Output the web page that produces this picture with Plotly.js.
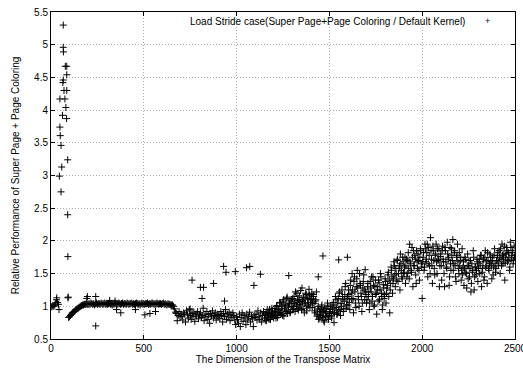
<!DOCTYPE html>
<html>
<head>
<meta charset="utf-8">
<script src="https://cdn.plot.ly/plotly-3.0.1.min.js"></script>
<style>html,body{margin:0;padding:0;background:#fff;}#chart{width:523px;height:374px;}</style>
</head>
<body>
<div id="chart"></div>
<script>
// ---- data ----
const seriesName = "Load Stride case(Super Page+Page Coloring / Default Kernel)";
const xTitle = "The Dimension of the Transpose Matrix";
const yTitle = "Relative Performance of Super Page + Page Coloring";

// dimensions 0..40 step 5
const startX0 = 0, startStep = 5;
const startY = [1.0, 0.99, 1.01, 1.0, 1.02, 1.05, 1.1, 1.06, 1.03];

// spike region (explicit)
const spikeX = [43, 45, 48, 48, 50, 54, 54, 58, 62, 64, 66, 66, 66, 67, 70, 75, 77, 80, 84, 85, 85, 85, 90, 90, 91, 91];
const spikeY = [0.95, 2.99, 4.17, 3.74, 3.61, 3.46, 2.75, 3.13, 3.92, 4.42, 4.46, 5.30, 4.96, 4.89, 4.30, 4.17, 4.67, 4.04, 3.87, 4.67, 4.54, 4.30, 3.24, 2.40, 1.76, 1.13];

// ramp 95..195 step 5
const rampX0 = 95, rampStep = 5;
const rampY = [0.83, 0.84, 0.86, 0.88, 0.9, 0.91, 0.92, 0.93, 0.95, 0.96, 0.97, 0.98, 0.99, 1.0, 1.01, 1.02, 1.02, 1.03, 1.03, 1.04, 1.03];

// plateau 200..650 step 5
const plateauX0 = 200, plateauStep = 5;
const plateauY = [
  1.03, 1.04, 1.03, 1.05, 1.04, 1.03, 1.04, 1.02, 1.04, 1.05,
  1.03, 1.04, 1.04, 1.03, 1.05, 1.04, 1.03, 1.04, 1.05, 1.03,
  1.04, 1.03, 1.04, 1.05, 1.03, 1.04, 1.02, 1.04, 1.03, 1.05,
  1.04, 1.04, 1.03, 1.05, 1.04, 1.03, 1.04, 1.05, 1.03, 1.04,
  1.04, 1.03, 1.05, 1.04, 1.03, 1.04, 1.04, 1.05, 1.03, 1.04,
  1.03, 1.04, 1.05, 1.04, 1.03, 1.04, 1.02, 1.04, 1.05, 1.03,
  1.04, 1.03, 1.04, 1.04, 1.05, 1.03, 1.04, 1.03, 1.04, 1.05,
  1.04, 1.03, 1.04, 1.03, 1.05, 1.04, 1.03, 1.04, 1.04, 1.03,
  1.04, 1.05, 1.03, 1.04, 1.03, 1.02, 1.04, 1.03, 1.03, 1.02,
  1.02
];

// noisy cloud 655..2500 step 5
const cloudX0 = 655, cloudStep = 5;
const cloudY = [
  1.02, 1.0, 0.96, 0.91, 0.89, 0.78, 0.86, 0.92, 0.84, 0.88,
  0.85, 0.79, 0.9, 0.88, 0.76, 0.93, 0.87, 0.82, 0.95, 0.86, 0.8, 0.89, 0.84, 0.91, 0.77, 0.88, 0.85, 0.92, 0.81, 0.87,
  0.9, 0.83, 0.86, 0.97, 0.78, 0.88, 0.84, 0.92, 0.8, 0.87, 0.74, 0.89, 0.85, 0.93, 0.82, 0.86, 0.9, 0.79, 0.88, 0.84,
  0.87, 0.81, 0.92, 0.86, 0.76, 0.89, 0.84, 0.95, 0.8, 0.88, 0.85, 0.91, 0.78, 0.87, 0.83, 0.9, 0.86, 0.79, 0.72, 0.84,
  0.8, 0.74, 0.88, 0.69, 0.83, 0.9, 0.77, 0.86, 0.82, 0.72, 0.88, 0.79, 0.84, 0.91, 0.76, 0.85, 0.81, 0.69, 0.87, 0.83,
  0.88, 0.79, 0.93, 0.84, 0.8, 0.9, 0.76, 0.86, 0.92, 0.82, 0.88, 0.78, 0.95, 0.85, 0.8, 0.9, 0.84, 0.97, 0.87, 0.82,
  0.92, 0.86, 1.0, 0.83, 0.95, 0.9, 1.05, 0.88, 0.97, 1.08, 0.85, 1.02, 0.93, 1.12, 0.89, 0.99, 1.04, 0.91, 1.1, 0.95,
  1.0, 1.15, 0.92, 1.06, 1.2, 0.97, 1.1, 1.03, 1.24, 0.95, 1.08, 1.14, 0.9, 1.05, 1.18, 1.0, 1.12, 1.26, 0.98, 1.1,
  1.2, 1.05, 1.15, 0.93, 1.08, 1.22, 0.88, 1.0, 0.82, 0.95, 0.86, 1.02, 0.9, 0.78, 0.97, 0.84, 0.92, 1.05, 0.8, 0.89,
  0.95, 0.85, 1.02, 0.9, 0.75, 0.98, 1.1, 0.88, 1.05, 0.93, 1.22, 0.86, 1.0, 1.15, 0.92, 1.08, 1.3, 0.97, 1.12, 1.02,
  1.18, 0.95, 1.4, 1.1, 1.25, 0.9, 1.45, 1.05, 1.3, 1.55, 1.15, 1.0, 1.35, 1.2, 0.92, 1.28, 1.48, 1.1, 1.22, 1.05,
  1.3, 1.15, 0.95, 1.38, 1.22, 1.08, 1.45, 1.0, 1.3, 1.18, 0.88, 1.25, 1.4, 1.1, 1.5, 1.2, 0.95, 1.33, 1.12, 1.42,
  1.05, 1.28, 1.48, 1.15, 0.9, 1.35, 1.55, 1.2, 1.42, 1.62, 1.3, 1.5, 1.7, 1.38, 1.58, 1.25, 1.65, 1.45, 1.75, 1.52,
  1.6, 1.35, 1.72, 1.5, 1.82, 1.42, 1.68, 1.55, 1.9, 1.3, 1.62, 1.78, 1.48, 1.85, 1.58, 1.7, 1.4, 1.88, 1.65, 1.12,
  1.75, 1.55, 1.95, 1.68, 1.82, 1.45, 1.9, 1.62, 2.05, 1.72, 1.35, 1.85, 1.58, 1.78, 1.95, 1.5, 1.7, 1.88, 1.62, 1.8,
  1.4, 1.92, 1.68, 1.3, 1.85, 1.6, 1.98, 1.72, 1.32, 1.9, 1.55, 1.78, 2.02, 1.65, 1.85, 1.45, 1.75, 1.95, 1.58, 1.82,
  1.7, 1.4, 1.88, 1.6, 1.32, 1.75, 1.52, 1.28, 1.8, 1.62, 1.45, 1.7, 1.35, 1.55, 1.85, 1.25, 1.6, 1.48, 1.72, 1.38,
  1.65, 1.5, 1.78, 1.3, 1.58, 1.72, 1.45, 1.85, 1.62, 1.35, 1.7, 1.55, 1.8, 1.68, 1.42, 1.75, 1.6, 1.88, 1.52, 1.7,
  1.78, 1.62, 1.85, 1.5, 1.72, 1.95, 1.65, 1.8, 1.4, 1.75, 1.9, 1.68, 1.82, 1.55, 1.98, 1.72, 1.85, 1.65, 1.92, 1.78
];

// interleaved extra readings in the dense cloud, 1152.5..2497.5 step 5
const cloud2X0 = 1152.5, cloud2Step = 5;
const cloud2Y = [
  0.86, 0.78, 0.91, 0.83, 0.89, 0.95, 0.8, 0.87, 0.93, 0.84,
  0.9, 0.97, 0.82, 1.01, 0.88, 0.94, 1.06, 0.9, 1.0, 0.86, 1.1, 0.96, 1.02, 0.92, 1.14, 0.99, 1.05, 0.9, 1.08, 1.0,
  1.12, 0.96, 1.04, 1.22, 1.0, 1.09, 0.94, 1.16, 1.02, 1.07, 1.28, 0.97, 1.13, 1.05, 1.2, 0.93, 1.1, 1.02, 1.17, 1.06,
  1.12, 0.98, 1.18, 1.04, 0.9, 1.1, 0.85, 0.96, 0.8, 0.92, 0.87, 0.99, 0.83, 0.94, 0.76, 0.9, 0.97, 0.84, 1.0, 0.86,
  0.92, 1.0, 0.82, 0.96, 1.06, 0.9, 1.15, 0.98, 0.88, 1.12, 1.2, 0.95, 1.04, 1.25, 1.1, 0.96, 1.18, 1.35, 1.02, 1.15,
  1.25, 1.06, 1.32, 1.2, 1.5, 1.12, 1.38, 1.22, 0.98, 1.42, 1.28, 1.1, 1.5, 1.32, 1.15, 1.05, 1.38, 1.25, 1.56, 1.18,
  1.1, 1.35, 1.22, 1.05, 1.28, 1.45, 1.15, 1.32, 1.02, 1.4, 1.2, 1.3, 1.08, 1.36, 1.25, 1.45, 1.15, 1.02, 1.28, 1.18,
  1.38, 1.2, 1.32, 1.52, 1.4, 1.25, 1.6, 1.45, 1.35, 1.68, 1.48, 1.58, 1.4, 1.72, 1.5, 1.62, 1.8, 1.55, 1.42, 1.68,
  1.5, 1.75, 1.62, 1.45, 1.7, 1.58, 1.95, 1.65, 1.52, 1.75, 1.85, 1.62, 1.72, 1.35, 1.68, 1.8, 1.55, 1.75, 1.85, 1.6,
  1.68, 1.82, 1.6, 1.88, 1.72, 1.95, 1.65, 1.78, 1.5, 1.85, 1.62, 1.92, 1.7, 1.48, 1.8, 1.68, 1.88, 1.72, 1.3, 1.76,
  1.62, 1.85, 1.72, 1.5, 1.9, 1.68, 1.58, 1.8, 1.75, 1.45, 1.65, 1.88, 1.7, 1.55, 1.82, 1.62, 1.38, 1.78, 1.68, 1.5,
  1.62, 1.75, 1.55, 1.48, 1.68, 1.58, 1.72, 1.5, 1.62, 1.42, 1.7, 1.58, 1.22, 1.65, 1.52, 1.75, 1.45, 1.6, 1.55, 1.68,
  1.58, 1.72, 1.62, 1.78, 1.52, 1.68, 1.4, 1.75, 1.6, 1.7, 1.82, 1.58, 1.65, 1.75, 1.62, 1.7, 1.48, 1.78, 1.65, 1.58,
  1.7, 1.82, 1.68, 1.75, 1.88, 1.62, 1.78, 1.72, 1.92, 1.66, 1.8, 1.85, 1.7, 1.75, 1.6, 1.9, 1.78, 1.82, 1.7, 1.75
];

// isolated outliers (explicit)
const outlierX = [31, 93, 193, 196, 241, 241, 316, 345, 353, 376, 455, 506, 533, 563, 750, 760, 805, 814, 822, 876, 930, 935, 943, 993, 1053, 1071, 1093, 1128, 1281, 1440, 1465, 1550, 1597];
const outlierY = [1.13, 1.14, 1.12, 1.15, 1.15, 0.70, 1.09, 1.08, 0.95, 0.90, 0.95, 0.87, 0.89, 0.92, 0.96, 1.40, 1.29, 1.12, 1.29, 1.35, 1.61, 1.08, 1.52, 1.53, 1.59, 1.61, 1.32, 1.49, 1.47, 1.45, 1.77, 1.71, 1.75];

const xTickVals = [0, 500, 1000, 1500, 2000, 2500];
const yTickVals = [0.5, 1, 1.5, 2, 2.5, 3, 3.5, 4, 4.5, 5, 5.5];

// ---- assemble ----
const X = [], Y = [];
function addRun(x0, step, ys) { ys.forEach((v, i) => { X.push(x0 + i * step); Y.push(v); }); }
function addPairs(xs, ys) { xs.forEach((v, i) => { X.push(v); Y.push(ys[i]); }); }
addRun(startX0, startStep, startY);
addPairs(spikeX, spikeY);
addRun(rampX0, rampStep, rampY);
addRun(plateauX0, plateauStep, plateauY);
addRun(cloudX0, cloudStep, cloudY);
addRun(cloud2X0, cloud2Step, cloud2Y);
addPairs(outlierX, outlierY);

const font = {family: "Liberation Sans, Arial, sans-serif", size: 10, color: "#000"};

const trace = {
  type: "scatter", mode: "markers", name: seriesName, x: X, y: Y,
  marker: {symbol: "cross-thin", size: 5, color: "#000", line: {color: "#000", width: 1}},
  showlegend: false, hoverinfo: "none", cliponaxis: true
};

const axisCommon = {
  showline: true, linecolor: "#000", linewidth: 1, mirror: "ticks",
  ticks: "inside", ticklen: 4, tickcolor: "#000", tickwidth: 1,
  showgrid: true, gridcolor: "#aaa", griddash: "1px,2px", gridwidth: 1,
  zeroline: false, tickfont: font, automargin: false, ticklabeloverflow: "allow"
};

const layout = {
  width: 523, height: 374,
  margin: {l: 51, r: 8, t: 12, b: 35},
  paper_bgcolor: "#fff", plot_bgcolor: "#fff",
  font: font,
  xaxis: Object.assign({}, axisCommon, {
    range: [0, 2500], tickvals: xTickVals, ticktext: xTickVals.map(String),
    title: {text: xTitle, font: font, standoff: 1}
  }),
  yaxis: Object.assign({}, axisCommon, {
    range: [0.5, 5.5], tickvals: yTickVals, ticktext: yTickVals.map(String),
    title: {text: yTitle, font: font, standoff: 12}
  }),
  annotations: [
    {xref: "paper", yref: "paper", x: 0.8966, y: 0.972, xanchor: "right", yanchor: "middle",
     text: seriesName, showarrow: false, font: font},
    {xref: "paper", yref: "paper", x: 0.9418, y: 0.972, xanchor: "center", yanchor: "middle",
     text: "+", showarrow: false, font: {family: font.family, size: 9, color: "#000"}}
  ]
};

Plotly.newPlot("chart", [trace], layout, {staticPlot: true, displayModeBar: false});
</script>
</body>
</html>
